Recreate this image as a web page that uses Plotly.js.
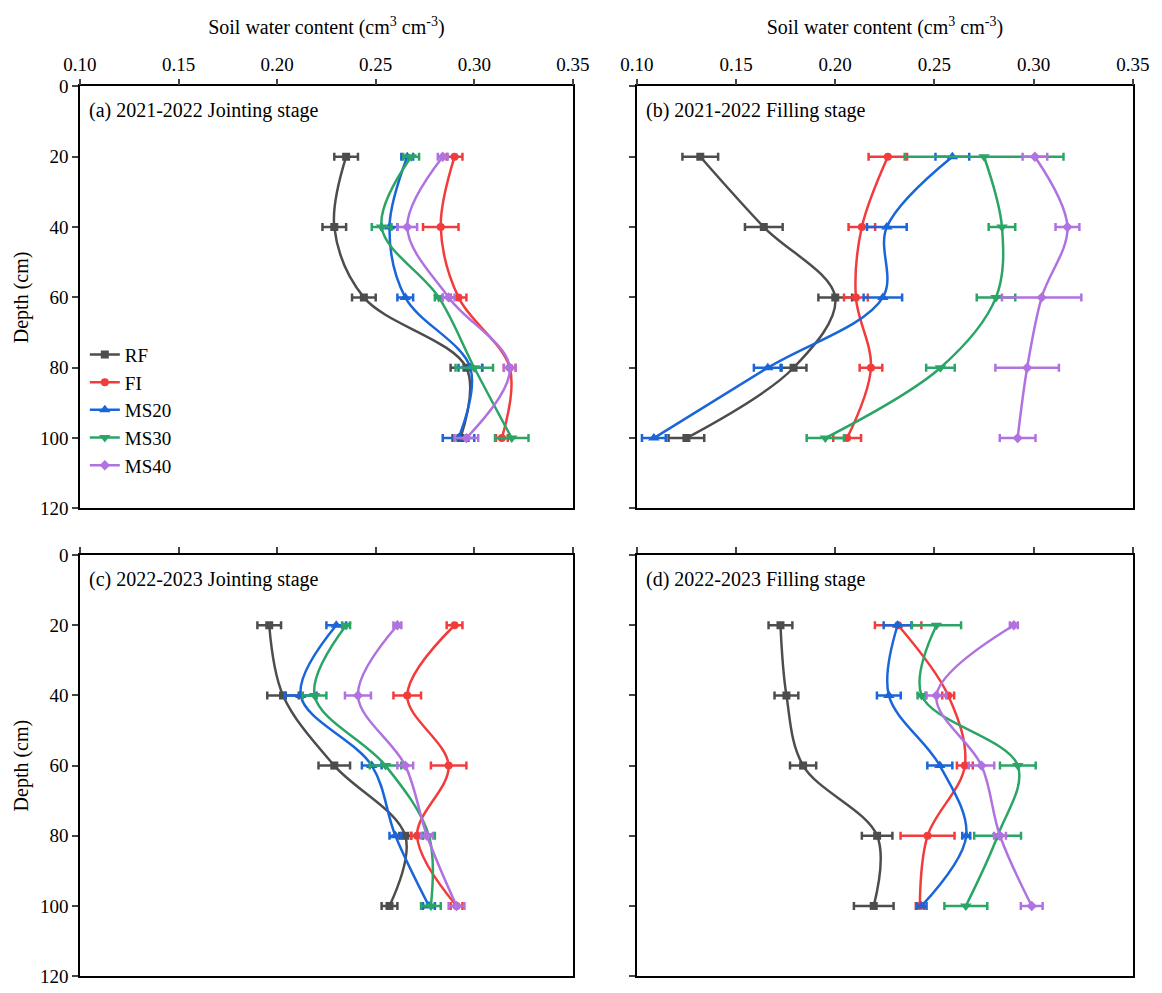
<!DOCTYPE html>
<html>
<head>
<meta charset="utf-8">
<script src="https://cdn.plot.ly/plotly-3.0.1.min.js"></script>
<style>body{margin:0;background:#fff}#chart{width:1162px;height:993px}</style>
</head>
<body>
<div id="chart"></div>
<script>
const depth = [20, 40, 60, 80, 100];
const treatments = ["RF", "FI", "MS20", "MS30", "MS40"];
const colors = ["#4d4d4d", "#f23c3c", "#1a66d9", "#2aa566", "#b072e0"];
const symbols = ["square", "circle", "triangle-up", "triangle-down", "diamond"];
const panelTitles = ["(a) 2021-2022 Jointing stage", "(b) 2021-2022 Filling stage",
                     "(c) 2022-2023 Jointing stage", "(d) 2022-2023 Filling stage"];

// soil water content per panel, rows in treatment order
const swcA = [
  [0.235, 0.229, 0.244, 0.296, 0.293],
  [0.290, 0.283, 0.292, 0.318, 0.314],
  [0.266, 0.257, 0.265, 0.298, 0.292],
  [0.268, 0.253, 0.282, 0.300, 0.319],
  [0.284, 0.266, 0.287, 0.318, 0.296]
];
const errA = [
  [0.006, 0.006, 0.006, 0.008, 0.004],
  [0.004, 0.009, 0.004, 0.003, 0.003],
  [0.003, 0.004, 0.004, 0.006, 0.008],
  [0.004, 0.005, 0.002, 0.0095, 0.0085],
  [0.0025, 0.005, 0.003, 0.003, 0.006]
];
const swcB = [
  [0.132, 0.164, 0.200, 0.179, 0.125],
  [0.2265, 0.2134, 0.2104, 0.218, 0.206],
  [0.259, 0.226, 0.224, 0.166, 0.1086],
  [0.275, 0.284, 0.281, 0.253, 0.195],
  [0.3006, 0.317, 0.304, 0.2967, 0.2919]
];
const errB = [
  [0.009, 0.0095, 0.0085, 0.0065, 0.009],
  [0.0097, 0.0067, 0.006, 0.0057, 0.007],
  [0.0085, 0.010, 0.0097, 0.007, 0.006],
  [0.040, 0.0067, 0.0097, 0.0072, 0.0094],
  [0.0062, 0.006, 0.020, 0.016, 0.009]
];
const swcC = [
  [0.196, 0.203, 0.229, 0.265, 0.257],
  [0.290, 0.266, 0.287, 0.271, 0.291],
  [0.230, 0.212, 0.248, 0.260, 0.277],
  [0.235, 0.219, 0.255, 0.277, 0.278],
  [0.261, 0.241, 0.265, 0.276, 0.291]
];
const errC = [
  [0.006, 0.008, 0.008, 0.003, 0.004],
  [0.004, 0.007, 0.009, 0.003, 0.003],
  [0.005, 0.008, 0.005, 0.003, 0.003],
  [0.002, 0.006, 0.008, 0.003, 0.005],
  [0.002, 0.0066, 0.004, 0.003, 0.004]
];
const swcD = [
  [0.1724, 0.1754, 0.1838, 0.2211, 0.2194],
  [0.2317, 0.2569, 0.2653, 0.2465, 0.2426],
  [0.2314, 0.227, 0.2527, 0.266, 0.2435],
  [0.251, 0.2435, 0.292, 0.2818, 0.2658],
  [0.290, 0.251, 0.2737, 0.283, 0.299]
];
const errD = [
  [0.006, 0.006, 0.0066, 0.0077, 0.010],
  [0.0117, 0.003, 0.004, 0.0136, 0.002],
  [0.007, 0.006, 0.0063, 0.002, 0.0025],
  [0.0124, 0.002, 0.009, 0.0118, 0.0108],
  [0.002, 0.005, 0.0064, 0.003, 0.0055]
];

const panels = [[swcA, errA], [swcB, errB], [swcC, errC], [swcD, errD]];
const font = "Liberation Serif, Times New Roman, serif";

const traces = [];
panels.forEach(([vals, errs], p) => {
  const ax = p === 0 ? "" : String(p + 1);
  treatments.forEach((name, t) => {
    traces.push({
      x: vals[t], y: depth,
      xaxis: "x" + ax, yaxis: "y" + ax,
      type: "scatter", mode: "lines+markers",
      name: name, showlegend: p === 0,
      line: { color: colors[t], width: 2.5, shape: "spline", smoothing: 1 },
      marker: { color: colors[t], symbol: symbols[t], size: symbols[t].startsWith("triangle") ? 10 : 8 },
      error_x: { type: "data", array: errs[t], visible: true, color: colors[t], thickness: 2.5, width: 4 }
    });
  });
});

const xDom = [[0.0688, 0.493], [0.548, 0.975]];
const yDom = [[0.488, 0.913], [0.017, 0.441]];

const layout = {
  width: 1162, height: 993,
  margin: { l: 0, r: 0, t: 0, b: 0 },
  paper_bgcolor: "#fff", plot_bgcolor: "#fff",
  font: { family: font, size: 19, color: "#000" },
  showlegend: true,
  legend: { x: 0.073, y: 0.512, xanchor: "left", yanchor: "bottom",
            font: { family: font, size: 19 }, bgcolor: "rgba(0,0,0,0)", tracegroupgap: 0 },
  annotations: []
};

for (let p = 0; p < 4; p++) {
  const ax = p === 0 ? "" : String(p + 1);
  const col = p % 2, row = Math.floor(p / 2);
  layout["xaxis" + ax] = {
    domain: xDom[col], anchor: "y" + ax, side: "top",
    range: [0.10, 0.35], dtick: 0.05, tickformat: ".2f",
    showticklabels: row === 0,
    ticks: "outside", ticklen: 6, tickwidth: 1.5,
    showline: true, mirror: true, linecolor: "#000", linewidth: 1.5,
    showgrid: false, zeroline: false,
    title: row === 0 ? { text: "Soil water content (cm<sup>3</sup> cm<sup>-3</sup>)", font: { size: 20 }, standoff: 14 } : { text: "" }
  };
  layout["yaxis" + ax] = {
    domain: yDom[row], anchor: "x" + ax,
    range: [120, 0], dtick: 20,
    showticklabels: col === 0,
    ticks: "outside", ticklen: 6, tickwidth: 1.5,
    showline: true, mirror: true, linecolor: "#000", linewidth: 1.5,
    showgrid: false, zeroline: false,
    title: col === 0 ? { text: "Depth (cm)", font: { size: 20 }, standoff: 6 } : { text: "" }
  };
  layout.annotations.push({
    text: panelTitles[p], xref: "x" + ax + " domain", yref: "y" + ax + " domain",
    x: 0.015, y: 0.975, xanchor: "left", yanchor: "top", showarrow: false,
    font: { family: font, size: 20 }
  });
}

Plotly.newPlot("chart", traces, layout, { displayModeBar: false });
</script>
</body>
</html>
